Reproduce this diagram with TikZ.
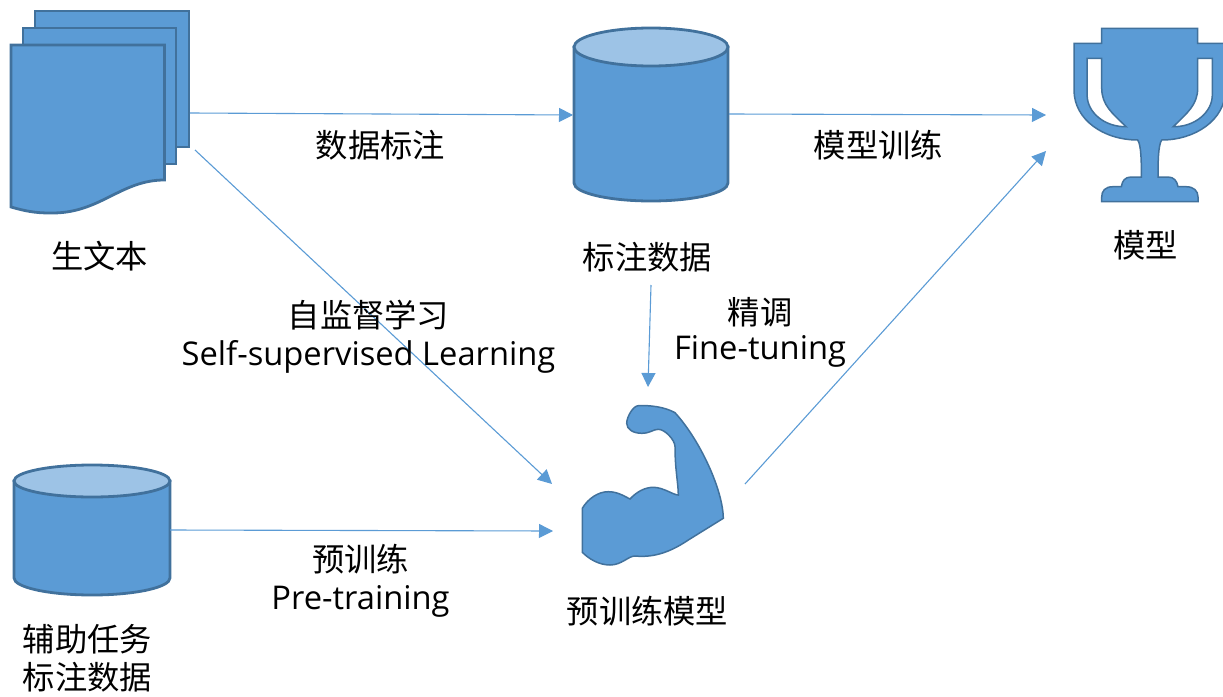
\documentclass[tikz,border=0pt]{standalone}
\usepackage{fontspec}
\setmainfont[Scale=1.012]{Open Sans}
\newfontfamily\cjk{Noto Sans CJK SC}
\usetikzlibrary{arrows.meta}
\definecolor{iconfill}{HTML}{5B9BD5}
\definecolor{iconline}{HTML}{41719C}
\definecolor{icontop}{HTML}{9DC3E6}
\tikzset{
    icon/.style={draw=iconline, fill=iconfill, line width=2.8pt, line join=miter},
    thinicon/.style={draw=iconline, fill=iconfill, line width=1.5pt},
    flow/.style={draw=iconfill, line width=1.1pt, -{Triangle[length=14pt,width=14pt]}},
    label/.style={font=\fontsize{32.3}{38}\selectfont, inner sep=0pt, align=center},
    drum top/.style={draw=iconline, fill=icontop, line width=2.8pt}
}
\begin{document}
\begin{tikzpicture}[x=1pt,y=-1pt]
                \useasboundingbox (0,0) rectangle (1223,696);
                \draw[icon] (35,11) rectangle (189,147);
                \draw[icon] (23,28) rectangle (176,164);
                \draw[icon] (11,45) -- (164.5,45) -- (164.5,180) .. controls (120,180) and (100,214) .. (50,213) .. controls (35,213) and (25,211) .. (11,207) -- cycle;
                \draw[icon] (574,47) -- (574,183) arc[start angle=180, end angle=0, x radius=77, y radius=18] -- (728,47) -- cycle;
                \draw[drum top] (651,47) ellipse[x radius=77, y radius=19];
                \draw[icon] (14,481) -- (14,578) arc[start angle=180, end angle=0, x radius=78, y radius=17] -- (170,481) -- cycle;
                \draw[drum top] (92,481) ellipse[x radius=78, y radius=16];
                \draw[thinicon, even odd rule] (1101.7,28.3) -- (1197.7,28.3) -- (1197.7,43.3) -- (1225.4,43.3) -- (1225.4,90)
                    .. controls (1225.4,120) and (1195,140) .. (1161.7,140) .. controls (1158,145) and (1158,165) .. (1158,177)
                    -- (1168,177) .. controls (1174,177) and (1177,181) .. (1178,186.7) -- (1186,186.7) .. controls (1194,186.7) and (1198,191) .. (1198,197)
                    -- (1198,201.7) -- (1101.7,201.7) -- (1101.7,197) .. controls (1101.7,191) and (1105,186.7) .. (1113,186.7) -- (1121.4,186.7)
                    .. controls (1122,181) and (1125,177) .. (1131,177) -- (1141.4,177) .. controls (1141.4,165) and (1141.4,145) .. (1137.7,140)
                    .. controls (1104,140) and (1074,120) .. (1074,90) -- (1074,43.3) -- (1101.7,43.3) -- cycle
                    (1197.7,58.3) -- (1212.3,58.3) -- (1212.3,95) .. controls (1212.3,112) and (1195,127) .. (1173.3,126.7) .. controls (1187,113) and (1197.7,105) .. (1197.7,88) -- cycle
                    (1101.7,58.3) -- (1087.1,58.3) -- (1087.1,95) .. controls (1087.1,112) and (1104,127) .. (1126.1,126.7) .. controls (1112,113) and (1101.7,105) .. (1101.7,88) -- cycle;
                \draw[thinicon] (638.3,405.7) .. controls (650,405) and (665,407) .. (675,412.7) .. controls (700,440) and (723,490) .. (723.3,518.3)
                    -- (688.3,540) .. controls (672,551) and (655,558) .. (635,556) .. controls (628.3,556) and (621.7,565) .. (610,565)
                    .. controls (598.3,565) and (588.3,558.3) .. (582.3,552.3) -- (582.3,508.3) .. controls (588.3,498.3) and (598.3,491.7) .. (608.3,491.7)
                    .. controls (618.3,491.7) and (625,496.7) .. (630,499) .. controls (636.7,491.7) and (645,487.3) .. (653.3,487.3)
                    .. controls (663.3,487.3) and (673.3,495) .. (678.3,495) .. controls (678.3,483.3) and (675,470) .. (675,446.7)
                    .. controls (675,440) and (665,429.3) .. (658.3,429.3) .. controls (653.3,429.3) and (650,433.3) .. (641.7,433.3)
                    .. controls (633.3,433.3) and (626.7,429.3) .. (626.7,423.3) .. controls (626.7,416.7) and (633.3,405.7) .. (638.3,405.7) -- cycle;
                \coordinate (rawtextright) at (190,113);
                \coordinate (rawtextcorner) at (195,150);
                \coordinate (annotatedleft) at (573,115);
                \coordinate (annotatedright) at (729,114);
                \coordinate (annotatedbelow) at (651,285);
                \coordinate (trophyleft) at (1046,115);
                \coordinate (trophycorner) at (1046,151);
                \coordinate (auxright) at (170,530);
                \coordinate (armtop) at (648,387);
                \coordinate (armcorner) at (552,484);
                \coordinate (armleft) at (553,531);
                \coordinate (armright) at (745,484);
                \draw[flow] (rawtextright) -- (annotatedleft);
                \draw[flow] (annotatedright) -- (trophyleft);
                \draw[flow] (rawtextcorner) -- (armcorner);
                \draw[flow] (auxright) -- (armleft);
                \draw[flow] (annotatedbelow) -- (armtop);
                \draw[flow] (armright) -- (trophycorner);
                \node[label] (rawtext) at (99.5,256) {\cjk 生文本};
                \node[label] (annotate) at (380.5,145) {\cjk 数据标注};
                \node[label] (annotated) at (647.5,257) {\cjk 标注数据};
                \node[label] (trainmodel) at (878.5,145) {\cjk 模型训练};
                \node[label] (model) at (1145.5,245) {\cjk 模型};
                \node[label] (selfsup) at (368.5,337) {{\cjk 自监督学习}\\Self-supervised Learning};
                \node[label] (finetune) at (760,332.5) {{\cjk 精调}\\[-3pt]Fine-tuning};
                \node[label] (pretrain) at (360.5,581) {{\cjk 预训练}\\Pre-training};
                \node[label] (pretrained) at (647.5,611) {\cjk 预训练模型};
                \node[label] (auxdata) at (87.5,658) {{\cjk 辅助任务}\\{\cjk 标注数据}};
            \end{tikzpicture}
\end{document}
